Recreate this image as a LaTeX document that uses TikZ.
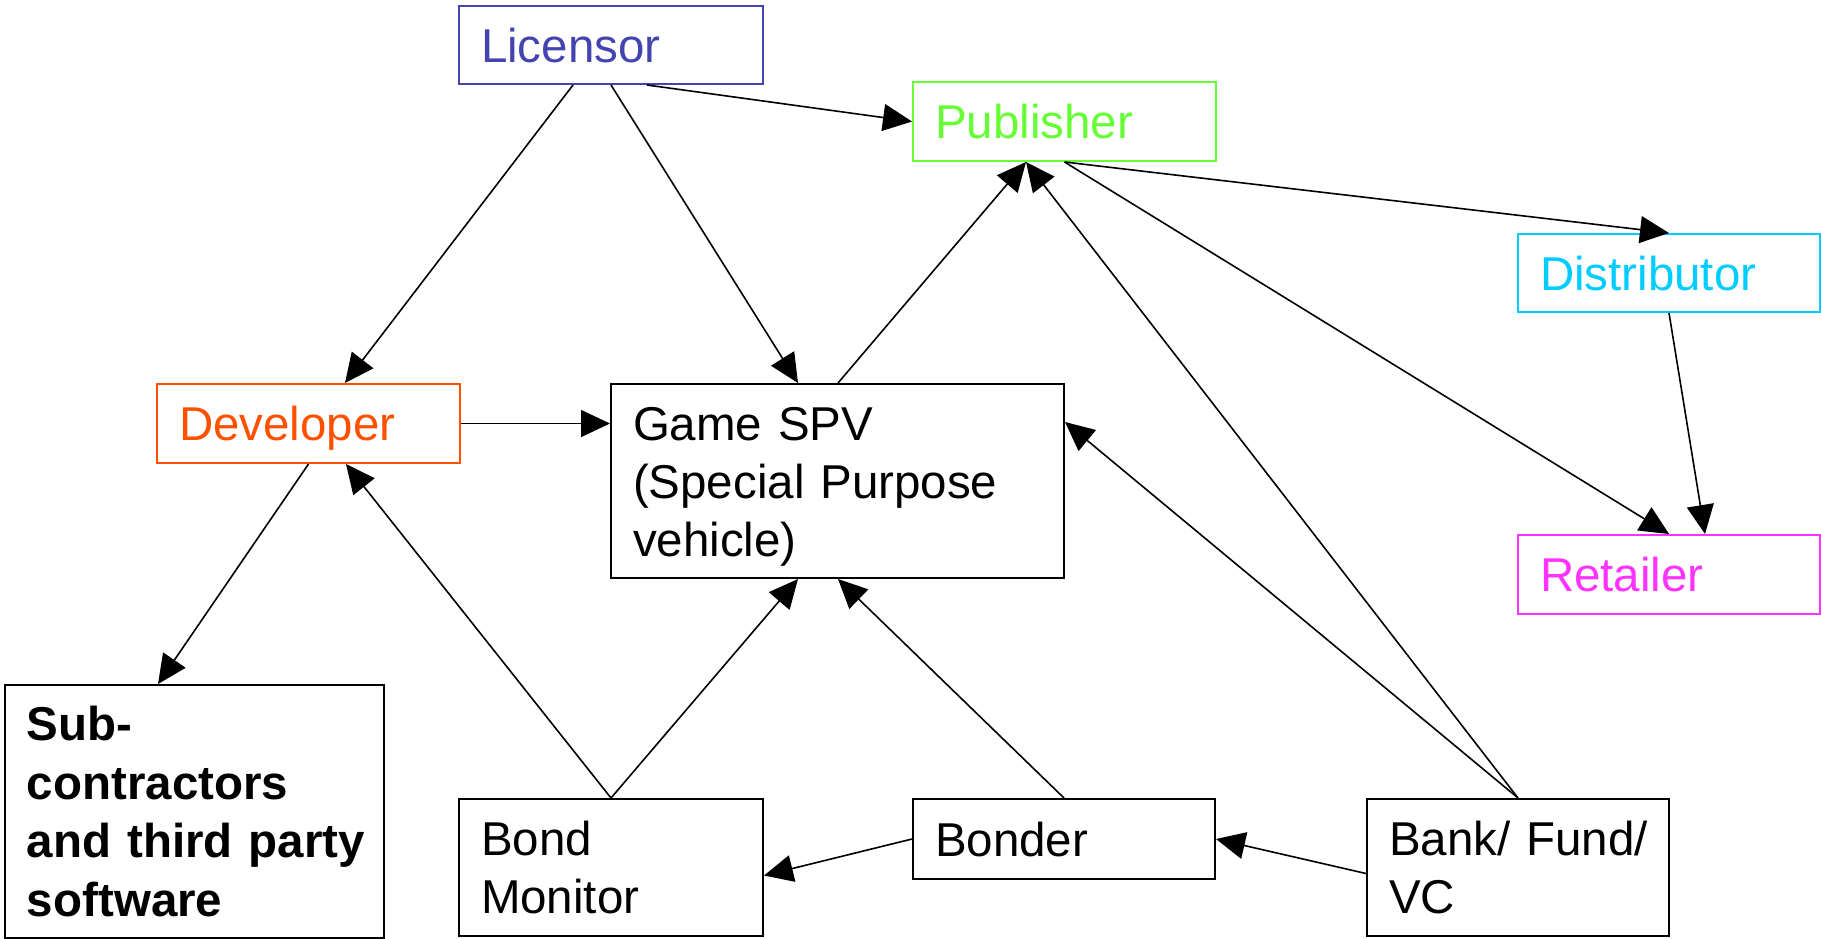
\documentclass[tikz,border=0pt]{standalone}
\usepackage{fontspec}
\setmainfont{Liberation Sans}
\usetikzlibrary{arrows.meta,calc}

\definecolor{licblue}{RGB}{68,68,176}
\definecolor{pubgreen}{RGB}{102,255,51}
\definecolor{distcyan}{RGB}{0,204,255}
\definecolor{devorange}{RGB}{255,80,0}
\definecolor{retmagenta}{RGB}{255,51,255}

\begin{document}
\begin{tikzpicture}[x=1pt,y=-1pt,
  box/.style={draw=black, line width=2pt, anchor=north west,
    inner xsep=22pt, inner ysep=0pt, align=left,
    font=\fontsize{47.5}{58}\selectfont, text height=34pt, text depth=0pt},
  lines2/.style={text depth=58pt},
  lines3/.style={text depth=116pt},
  lines4/.style={text depth=176pt},
  tinted/.style={box, draw=#1, text=#1},
  link/.style={line width=1.6pt, draw=black,
    -{Triangle[length=29pt,width=27pt]}}
]
\useasboundingbox (0,0) rectangle (1821,938);

% parties
\node[tinted=licblue,    text width=260pt, minimum height=78pt] (lic)  at (458,5)    {Licensor};
\node[tinted=pubgreen,   text width=259pt, minimum height=79pt] (pub)  at (912,81)   {Publisher};
\node[tinted=distcyan,   text width=258pt, minimum height=78pt] (dist) at (1517,233) {Distributor};
\node[tinted=devorange,  text width=259pt, minimum height=79pt] (dev)  at (156,383)  {Developer};
\node[tinted=retmagenta, text width=258pt, minimum height=79pt] (ret)  at (1517,534) {Retailer};
\node[box, lines3, text width=409pt, minimum height=194pt] (spv) at (610,383)
  {Game SPV\\(Special Purpose\\vehicle)};
\node[box, lines4, text width=335pt, minimum height=253pt, font=\fontsize{47.5}{58.7}\selectfont\bfseries] (sub) at (4,684)
  {Sub-\\contractors\\\mbox{and third party}\\software};
\node[box, lines2, text width=260pt, minimum height=137pt] (bm)   at (458,798)  {Bond\\Monitor};
\node[box,         text width=258pt, minimum height=80pt]  (bon)  at (912,798)  {Bonder};
\node[box, lines2, text width=258pt, minimum height=137pt] (bank) at (1366,798) {\mbox{Bank/ Fund/}\\VC};

% connections
\draw[link] ($(lic.south west)+(189,0)$) -- (pub.west);
\draw[link] ($(lic.south west)+(115,0)$) -- ($(dev.north west)+(189,0)$);
\draw[link] (lic.south) -- ($(spv.north west)+(188,0)$);
\draw[link] (dev.east) -- (dev.east -| spv.west);
\draw[link] (dev.south) -- ($(sub.north west)+(154,0)$);
\draw[link] (bm.north) -- ($(dev.south west)+(190,0)$);
\draw[link] (bm.north) -- ($(spv.south west)+(188,0)$);
\draw[link] (bon.north) -- ($(spv.south west)+(228,0)$);
\draw[link] (bon.west) -- ($(bm.east)+(0,8)$);
\draw[link] ($(bank.west)+(0,6)$) -- (bon.east);
\draw[link] (bank.north) -- ($(spv.north east)+(0,39)$);
\draw[link] (bank.north) -- ($(pub.south west)+(114,0)$);
\draw[link] ($(spv.north west)+(228,0)$) -- ($(pub.south west)+(114,0)$);
\draw[link] (pub.south) -- (dist.north);
\draw[link] (pub.south) -- (ret.north);
\draw[link] (dist.south) -- ($(ret.north west)+(188,0)$);
\end{tikzpicture}
\end{document}
